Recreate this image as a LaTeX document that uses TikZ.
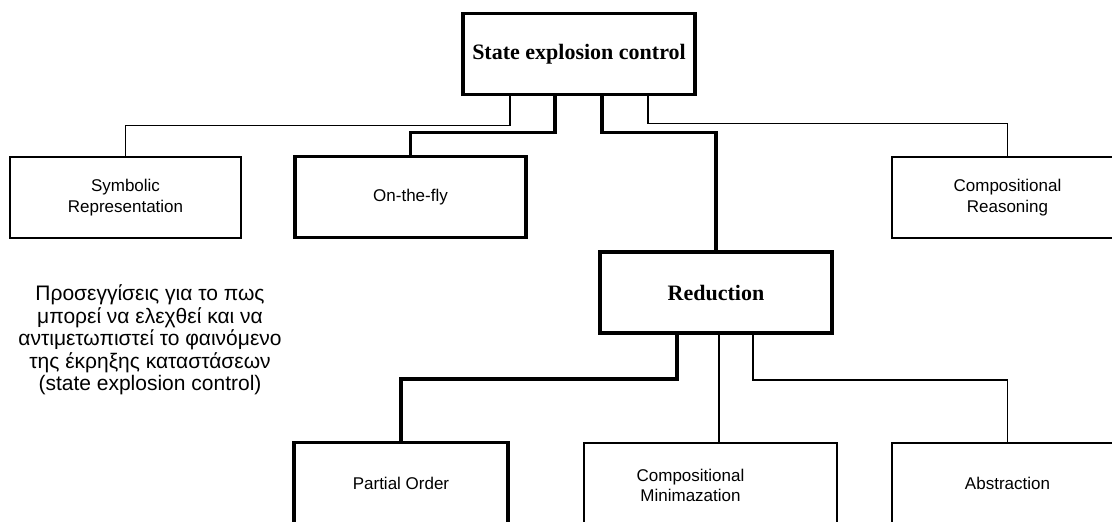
\documentclass[tikz,border=0pt]{standalone}
\usepackage{fontspec}
\setmainfont{Liberation Sans}
\newfontfamily\titlefont{Liberation Serif}
\begin{document}
\begin{tikzpicture}[x=1pt,y=-1pt,
  thinline/.style={line width=1.7pt},
  thickline/.style={line width=3.8pt},
  boxbase/.style={draw,fill=white,minimum width=231pt,minimum height=81pt,inner sep=0pt,align=center,
    font=\fontsize{17}{20.5}\selectfont},
  thinbox/.style={boxbase,thinline},
  thickbox/.style={boxbase,thickline},
  headbox/.style={boxbase,thickline,minimum width=232pt,
    font=\titlefont\bfseries\fontsize{22}{26}\selectfont},
  note/.style={align=center,font=\fontsize{21}{22.5}\selectfont}]
\useasboundingbox (0,0) rectangle (1112,522);
\clip (0,0) rectangle (1112,522);
\fill[white] (0,0) rectangle (1112,522);

% root and first level
\node[headbox] (top) at (579,54) {State explosion control};
\node[thinbox] (sym) at (125.5,197.5) {Symbolic\\Representation};
\node[thickbox] (otf) at (410.5,197) {On-the-fly};
\node[thinbox] (cr) at (1007.5,197.5) {Compositional\\Reasoning};
\node[headbox,minimum width=232pt] (red) at (716,292.5) {Reduction};

% second level under Reduction
\node[thickbox,minimum width=214pt] (po) at (401,483) {Partial Order};
\node[thinbox,minimum width=253pt,
  label={[xshift=-20pt,yshift=-2pt,font=\fontsize{17}{20.5}\selectfont,align=center]center:Compositional\\Minimazation}]
  (cm) at (710.5,483.5) {};
\node[thinbox] (ab) at (1007.5,483.5) {Abstraction};

% side note
\node[note] (txt) at (150,340) {Προσεγγίσεις για το πως\\μπορεί να ελεχθεί και να\\αντιμετωπιστεί το φαινόμενο\\της έκρηξης καταστάσεων\\(state explosion control)};

% connectors from the root
\draw[thinline] (top.south) ++(-69,0) -- ++(0,29) -| (sym.north);
\draw[thickline] (top.south) ++(-24,0) -- ++(0,36) -| (otf.north);
\draw[thickline] (top.south) ++(23,0) -- ++(0,36) -| (red.north);
\draw[thinline] (top.south) ++(69,0) -- ++(0,27) -| (cr.north);

% connectors from Reduction
\draw[thickline] (red.south) ++(-39,0) -- ++(0,44) -| (po.north);
\draw[thinline] (red.south) ++(3,0) coordinate (rc) -- (rc |- cm.north);
\draw[thinline] (red.south) ++(37,0) -- ++(0,45) -| (ab.north);
\end{tikzpicture}
\end{document}
